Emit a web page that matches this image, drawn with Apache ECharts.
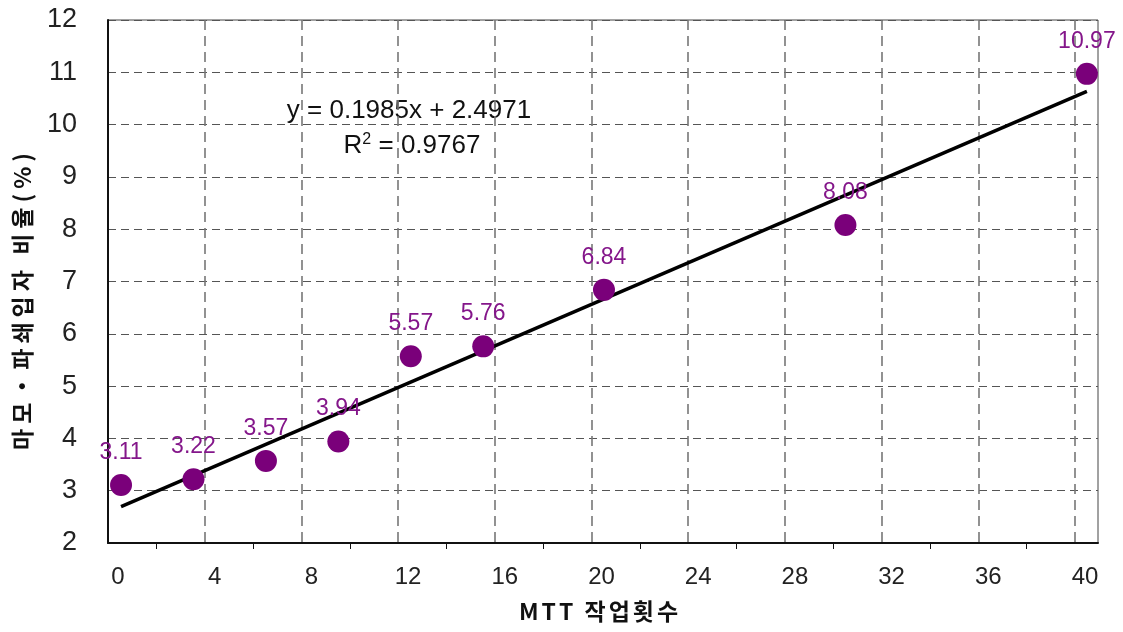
<!DOCTYPE html>
<html>
<head>
<meta charset="utf-8">
<script src="https://cdn.jsdelivr.net/npm/echarts@6/dist/echarts.min.js"></script>
<style>
  html, body { margin: 0; padding: 0; background: #fff; }
  #chart { width: 1123px; height: 632px; }
</style>
</head>
<body>
<div id="chart"></div>
<script>
// MTT work count vs. ratio of worn / broken particles (%)
const workCounts = [1, 4, 7, 10, 13, 16, 21, 31, 41];
const particleRatio = [3.11, 3.22, 3.57, 3.94, 5.57, 5.76, 6.84, 8.08, 10.97];

// linear fit reported on the chart
const fitSlope = 0.1985;
const fitIntercept = 2.4971;
const fitR2 = 0.9767;

const xTickValues = [0, 4, 8, 12, 16, 20, 24, 28, 32, 36, 40];
const yTickValues = [2, 3, 4, 5, 6, 7, 8, 9, 10, 11, 12];

const xTitle = 'MTT 작업횟수';
const yTitle = '마모・파쇄입자 비율(%)';

const numFont = '"Liberation Sans", Arial, sans-serif';
const krFont = '"Noto Sans CJK KR", "Liberation Sans", sans-serif';

// wrap every character in a rich segment so the titles get letter spacing
const spaced = s => Array.from(s).map(c => '{c|' + c + '}').join('');

const points = workCounts.map((x, i) => [x, particleRatio[i]]);
const xFirst = workCounts[0];
const xLast = workCounts[workCounts.length - 1];
const fitLine = [
  [xFirst, fitSlope * xFirst + fitIntercept],
  [xLast, fitSlope * xLast + fitIntercept]
];

const chart = echarts.init(document.getElementById('chart'));
chart.setOption({
  animation: false,
  backgroundColor: '#ffffff',
  grid: [
    // scale grid: vertical dashed lines, minor ticks, x labels
    { left: 108, top: 20, width: 967, height: 523, show: false },
    // plotting grid with frame
    { left: 108, top: 20, width: 990, height: 523, show: true,
      borderColor: '#444', borderWidth: 1, backgroundColor: 'transparent' }
  ],
  xAxis: [
    {
      gridIndex: 0, type: 'value', min: xTickValues[0], max: xTickValues[xTickValues.length - 1], interval: 4,
      axisLine: { show: false },
      axisTick: { show: false },
      minorTick: { show: true, splitNumber: 2, length: 6, lineStyle: { color: '#111', width: 1 } },
      axisLabel: {
        show: true, inside: false, margin: 22, color: '#222',
        fontFamily: numFont, fontSize: 24, padding: [0, 0, 0, 20],
        formatter: v => (xTickValues.includes(v) ? String(v) : '')
      },
      splitLine: { show: true, lineStyle: { color: '#777', width: 1.6, type: [10, 6] } },
      name: spaced(xTitle), nameLocation: 'middle', nameGap: 57,
      nameTextStyle: {
        color: '#111', padding: [0, 0, 0, 14],
        rich: { c: { fontFamily: krFont, fontSize: 23, fontWeight: 'bold', color: '#111', padding: [0, 1.5, 0, 1.5] } }
      }
    },
    {
      gridIndex: 1, type: 'value', min: 0.46, max: 41.46,
      axisLine: { show: true, lineStyle: { color: '#111', width: 2 } },
      axisTick: { show: false },
      axisLabel: { show: false },
      splitLine: { show: false }
    }
  ],
  yAxis: [
    {
      gridIndex: 0, type: 'value', min: 2, max: 12, show: false
    },
    {
      gridIndex: 1, type: 'value', min: yTickValues[0], max: yTickValues[yTickValues.length - 1], interval: 1,
      axisLine: { show: true, lineStyle: { color: '#111', width: 2 } },
      axisTick: { show: false },
      axisLabel: { color: '#222', fontFamily: numFont, fontSize: 27, margin: 31 },
      splitLine: { show: true, lineStyle: { color: '#555', width: 1, type: [8, 5] } },
      name: spaced(yTitle), nameLocation: 'middle', nameGap: 74, nameRotate: 90,
      nameTextStyle: {
        color: '#111', padding: [0, 40, 0, 0],
        rich: { c: { fontFamily: krFont, fontSize: 23, fontWeight: 'bold', color: '#111', padding: [0, 2.5, 0, 2.5] } }
      }
    }
  ],
  series: [
    {
      type: 'line', name: 'fit', xAxisIndex: 1, yAxisIndex: 1,
      data: fitLine, showSymbol: false, symbol: 'none', silent: true,
      lineStyle: { color: '#000', width: 3.5 }, z: 3
    },
    {
      type: 'scatter', name: 'ratio', xAxisIndex: 1, yAxisIndex: 1,
      data: points, symbol: 'circle', symbolSize: 22,
      itemStyle: { color: '#7A007A', opacity: 1 },
      label: {
        show: true, position: 'top', distance: 10,
        color: '#84168A', fontFamily: numFont, fontSize: 23,
        formatter: p => p.value[1].toFixed(2)
      },
      z: 4
    }
  ],
  graphic: [
    {
      type: 'text', x: 409, y: 111,
      style: {
        text: 'y = ' + fitSlope + 'x + ' + fitIntercept,
        fontFamily: numFont, fontSize: 26, fill: '#111',
        textAlign: 'center', textVerticalAlign: 'middle'
      }
    },
    {
      type: 'text', x: 412, y: 146,
      style: {
        text: 'R{sup|2} = ' + fitR2,
        fontFamily: numFont, fontSize: 26, fill: '#111',
        textAlign: 'center', textVerticalAlign: 'middle',
        rich: { sup: { fontFamily: numFont, fontSize: 16, fill: '#111', verticalAlign: 'top', padding: [0, 0, 12, 0] } }
      }
    }
  ]
});
</script>
</body>
</html>
